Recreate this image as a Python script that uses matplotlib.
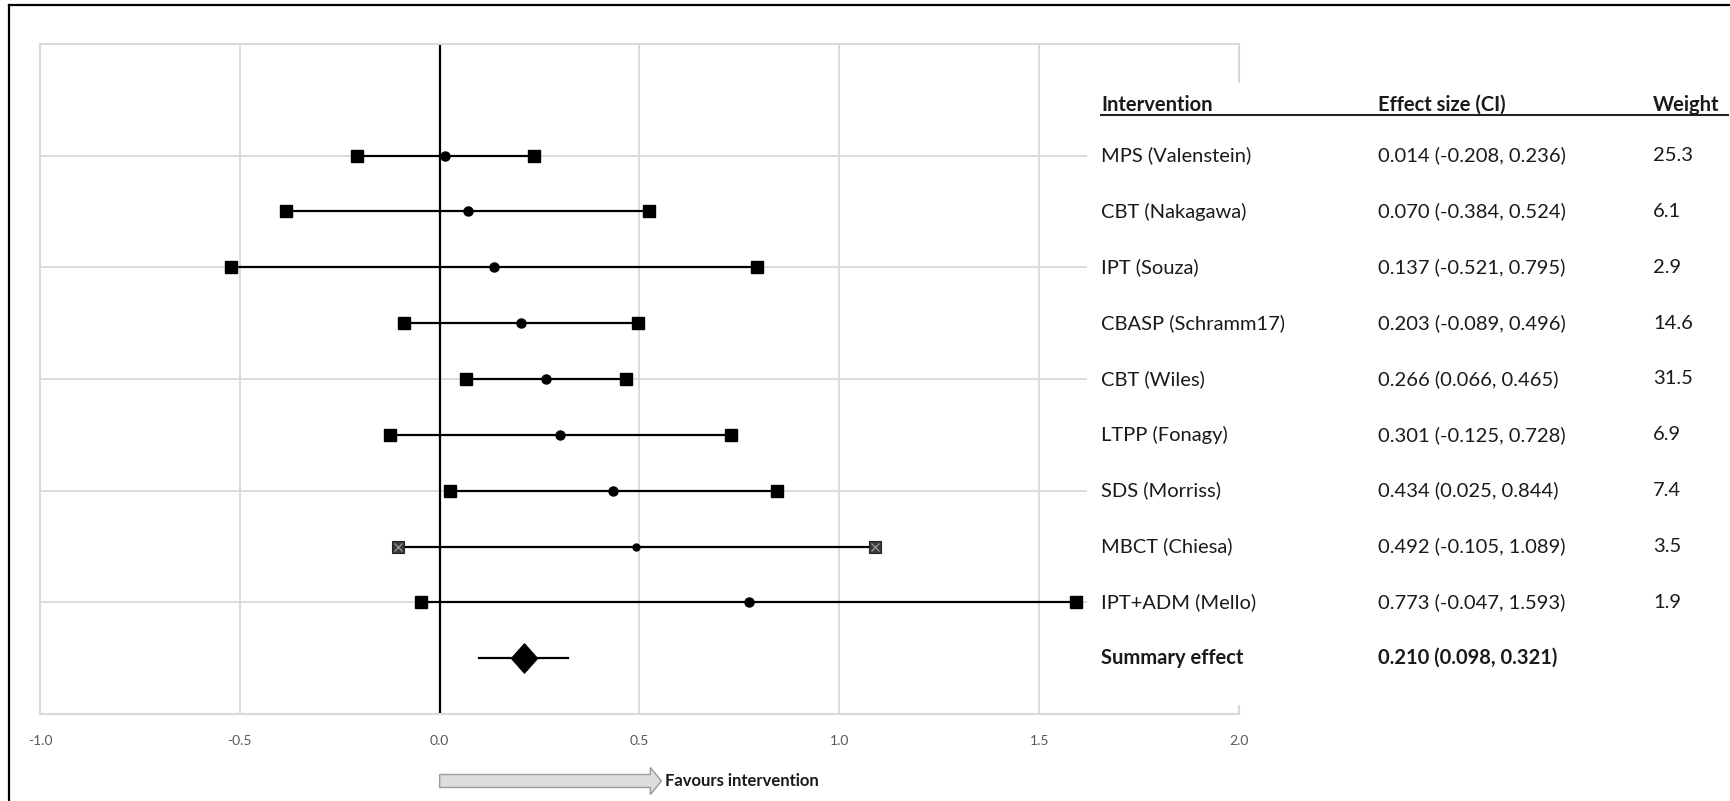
import numpy as np
import matplotlib
matplotlib.use("Agg")
import matplotlib.pyplot as plt
from matplotlib.transforms import blended_transform_factory
from matplotlib.patches import Rectangle, FancyArrow
from matplotlib.lines import Line2D
from matplotlib.path import Path

# ---------------- data ----------------
studies = ["MPS (Valenstein)", "CBT (Nakagawa)", "IPT (Souza)", "CBASP (Schramm17)",
           "CBT (Wiles)", "LTPP (Fonagy)", "SDS (Morriss)", "MBCT (Chiesa)", "IPT+ADM (Mello)"]
effects = [0.014, 0.070, 0.137, 0.203, 0.266, 0.301, 0.434, 0.492, 0.773]
lower = [-0.208, -0.384, -0.521, -0.089, 0.066, -0.125, 0.025, -0.105, -0.047]
upper = [0.236, 0.524, 0.795, 0.496, 0.465, 0.728, 0.844, 1.089, 1.593]
weights = ["25.3", "6.1", "2.9", "14.6", "31.5", "6.9", "7.4", "3.5", "1.9"]
summary_label = "Summary effect"
summary_effect = 0.210
summary_lower = 0.098
summary_upper = 0.321
xticks = [-1.0, -0.5, 0.0, 0.5, 1.0, 1.5, 2.0]
xtick_labels = ["-1.0", "-0.5", "0.0", "0.5", "1.0", "1.5", "2.0"]
headers = ["Intervention", "Effect size (CI)", "Weight"]

plt.rcParams['font.family'] = ['Lato', 'DejaVu Sans']

W, H = 1731, 801
fig = plt.figure(figsize=(W / 100, H / 100), dpi=100)
fig.patch.set_facecolor("white")

L, T, R, B = 40, 44, 1239, 714
ax = fig.add_axes([L / W, 1 - B / H, (R - L) / W, (B - T) / H])
ax.set_xlim(-1, 2)
ax.set_ylim(0, 12)

grid_c = "#d9d9d9"
for s in ax.spines.values():
    s.set_color(grid_c)
    s.set_linewidth(1.5)
ax.set_xticks(xticks)
ax.set_xticklabels(xtick_labels)
ax.set_yticks(np.arange(0, 13, 2))
ax.set_yticklabels([])
ax.grid(True, color=grid_c, linewidth=1.3, zorder=0)
ax.set_axisbelow(True)
ax.tick_params(axis="both", length=0)
ax.tick_params(axis="x", pad=15, labelsize=10, labelcolor="#595959")

ax.axvline(0, color="black", lw=1.6, zorder=2)

n = len(studies)
ypos = np.arange(n, 0, -1) + 1  # 10 .. 2
ysum = 1

for i in range(n):
    y = ypos[i]
    ax.plot([lower[i], upper[i]], [y, y], color="black", lw=1.6, zorder=3)
    if i == 7:
        ax.plot([lower[i], upper[i]], [y, y], ls="none", marker="s", ms=8,
                mfc="#3a3a3a", mec="#222222", mew=0.8, zorder=4)
        ax.plot([lower[i], upper[i]], [y, y], ls="none", marker="x", ms=5.5,
                mec="#9a9a9a", mew=0.9, zorder=5)
        ax.plot([effects[i]], [y], ls="none", marker="o", ms=5, color="black", zorder=4)
    else:
        ax.plot([lower[i], upper[i]], [y, y], ls="none", marker="s", ms=8.3,
                color="black", zorder=4)
        ax.plot([effects[i]], [y], ls="none", marker="o", ms=6.5, color="black", zorder=4)

# summary
ax.plot([summary_lower, summary_upper], [ysum, ysum], color="black", lw=1.6, zorder=3)
diamond = Path([(0, 1.12), (1, 0), (0, -1.12), (-1, 0), (0, 1.12)],
               [Path.MOVETO, Path.LINETO, Path.LINETO, Path.LINETO, Path.CLOSEPOLY])
ax.plot([summary_effect], [ysum], ls="none", marker=diamond, ms=21, color="black", zorder=4)

# table white box
fig.patches.append(Rectangle((1087 / W, 1 - 705 / H), (W - 1087) / W, (705 - 83) / H,
                             transform=fig.transFigure, facecolor="white",
                             edgecolor="none", zorder=1))

tr = blended_transform_factory(fig.transFigure, ax.transData)
cols = [1101 / W, 1378 / W, 1653 / W]
txt_c = "#1a1a1a"
fs = 14.5
for i in range(n):
    y = ypos[i]
    fig.text(cols[0], y, studies[i], transform=tr, fontsize=fs, color=txt_c,
             va="center", ha="left", zorder=3)
    fig.text(cols[1], y, f"{effects[i]:.3f} ({lower[i]:.3f}, {upper[i]:.3f})",
             transform=tr, fontsize=fs, color=txt_c, va="center", ha="left", zorder=3)
    fig.text(cols[2], y, weights[i], transform=tr, fontsize=fs, color=txt_c,
             va="center", ha="left", zorder=3)
fig.text(cols[0], ysum, summary_label, transform=tr, fontsize=fs, color=txt_c,
         fontweight="bold", va="center", ha="left", zorder=3)
fig.text(cols[1], ysum, f"{summary_effect:.3f} ({summary_lower:.3f}, {summary_upper:.3f})",
         transform=tr, fontsize=fs, color=txt_c, fontweight="bold", va="center",
         ha="left", zorder=3)

# header
hy = 1 - 111 / H
for c, h in zip(cols, headers):
    fig.text(c, hy, h, fontsize=fs, fontweight="bold", color=txt_c,
             va="baseline", ha="left", zorder=3)
fig.lines.append(Line2D([1101 / W, 1728 / W], [1 - 115 / H, 1 - 115 / H],
                        transform=fig.transFigure, color="#222222", lw=1.5, zorder=3))

# favours arrow
atr = blended_transform_factory(ax.transData, fig.transFigure)
ay = 1 - 781 / H
arrow = FancyArrow(0.0, ay, 0.555, 0, width=13 / H, head_width=27 / H,
                   head_length=0.028, length_includes_head=True,
                   transform=atr, facecolor="#dcdcdc", edgecolor="#9a9a9a",
                   lw=1.0, clip_on=False, zorder=3)
fig.patches.append(arrow)
fig.text(665 / W, ay, "Favours intervention", fontsize=12, fontweight="bold",
         color=txt_c, va="center", ha="left", zorder=3)

# outer frame (left and top)
fig.lines.append(Line2D([9 / W, 9 / W], [0, 1 - 5 / H], transform=fig.transFigure,
                        color="black", lw=1.6, zorder=5))
fig.lines.append(Line2D([9 / W, 1], [1 - 5 / H, 1 - 5 / H], transform=fig.transFigure,
                        color="black", lw=1.6, zorder=5))

fig.savefig("out.png", dpi=100, facecolor="white")
